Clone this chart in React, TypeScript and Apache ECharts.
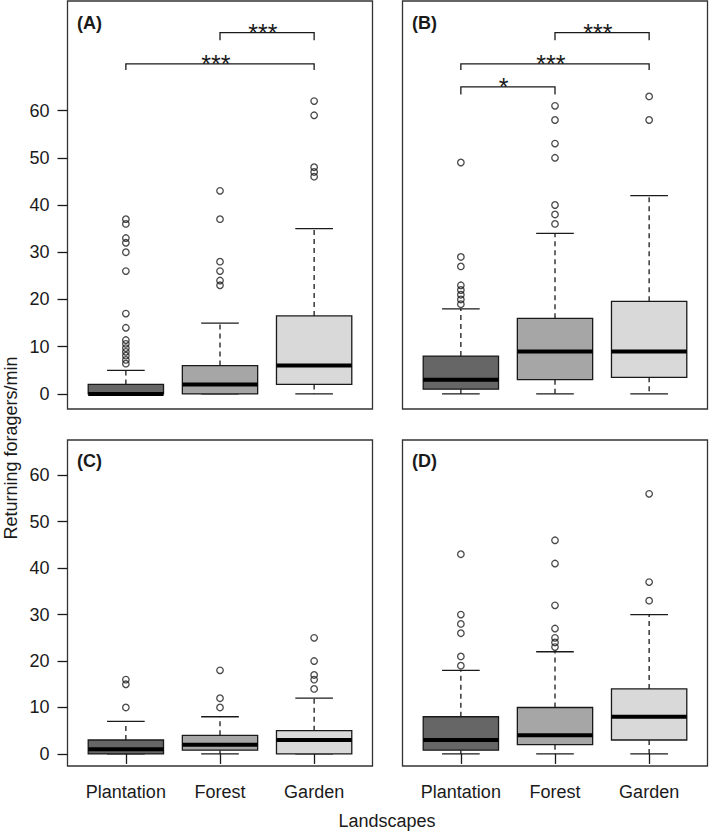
import React, { useEffect, useRef } from 'react';
import * as echarts from 'echarts';

const categories = ['Plantation', 'Forest', 'Garden'];
const panelLabels = ['(A)', '(B)', '(C)', '(D)'];
const boxColors = ['#666666', '#a6a6a6', '#d9d9d9'];
const yTicks = [0, 10, 20, 30, 40, 50, 60];
const xTicks = [1, 2, 3];

// [min, Q1, median, Q3, max] per landscape
const statsA = [[0, 0, 0, 2, 5], [0, 0, 2, 6, 15], [0, 2, 6, 16.5, 35]];
const statsB = [[0, 1, 3, 8, 18], [0, 3, 9, 16, 34], [0, 3.5, 9, 19.6, 42]];
const statsC = [[0, 0, 1, 3, 7], [0, 0.8, 2, 4, 8], [0, 0, 3, 5, 12]];
const statsD = [[0, 0.8, 3, 8, 18], [0, 2, 4, 10, 22], [0, 3, 8, 14, 30]];

const outliersA = [
  [6.4, 7.2, 8.1, 8.9, 9.7, 10.6, 11.4, 14, 17, 26, 30, 32, 33, 36, 37],
  [23, 24, 26, 28, 37, 43],
  [46, 47, 48, 59, 62],
];
const outliersB = [
  [19, 20, 21, 22, 23, 27, 29, 49],
  [36, 38, 40, 50, 53, 58, 61],
  [58, 63],
];
const outliersC = [
  [10, 15, 16],
  [10, 12, 18],
  [14, 16, 17, 20, 25],
];
const outliersD = [
  [19, 21, 26, 28, 30, 43],
  [23, 24, 25, 27, 32, 41, 46],
  [33, 37, 56],
];

// significance brackets: from, to, line level, end-drop level, label
const bracketsA = [
  { from: 2, to: 3, y: 76.5, drop: 74.9, label: '***' },
  { from: 1, to: 3, y: 69.9, drop: 68.6, label: '***' },
];
const bracketsB = [
  { from: 2, to: 3, y: 76.5, drop: 74.9, label: '***' },
  { from: 1, to: 3, y: 69.9, drop: 68.6, label: '***' },
  { from: 1, to: 2, y: 65.0, drop: 63.4, label: '*' },
];

const topRange = [-3.2, 83.2];
const bottomRange = [-2.6, 67.6];

const FONT = '"Liberation Sans", Arial, Helvetica, sans-serif';
const INK = '#1a1a1a';
const FRAME = '#333333';

export default function App() {
  const ref = useRef<HTMLDivElement>(null);

  useEffect(() => {
    if (!ref.current) return;
    const chart = echarts.init(ref.current, undefined, { renderer: 'svg' });

    const panels = [
      { stats: statsA, out: outliersA, br: bracketsA, range: topRange, yLab: true, xLab: false },
      { stats: statsB, out: outliersB, br: bracketsB, range: topRange, yLab: false, xLab: false },
      { stats: statsC, out: outliersC, br: [], range: bottomRange, yLab: true, xLab: true },
      { stats: statsD, out: outliersD, br: [], range: bottomRange, yLab: false, xLab: true },
    ];
    const gridPos = [
      { left: 67.5, top: 1, width: 305, height: 408 },
      { left: 402.5, top: 1, width: 305, height: 408 },
      { left: 67.5, top: 440, width: 305, height: 326 },
      { left: 402.5, top: 440, width: 305, height: 326 },
    ];

    const grid = gridPos.map((g) => ({
      ...g,
      show: true,
      borderColor: FRAME,
      borderWidth: 1.3,
      backgroundColor: 'transparent',
      containLabel: false,
    }));

    const xAxis = panels.map((p, i) => ({
      type: 'value',
      gridIndex: i,
      min: 0.38,
      max: 3.62,
      splitLine: { show: false },
      axisLine: { show: false },
      axisTick: {
        show: p.xLab,
        length: 10,
        inside: false,
        customValues: xTicks,
        lineStyle: { color: INK, width: 1.3 },
      },
      axisLabel: {
        show: p.xLab,
        customValues: xTicks,
        formatter: (v: number) => categories[Math.round(v) - 1] || '',
        fontSize: 18,
        fontFamily: FONT,
        color: INK,
        margin: 17,
      },
    }));

    const yAxis = panels.map((p, i) => ({
      type: 'value',
      gridIndex: i,
      min: p.range[0],
      max: p.range[1],
      splitLine: { show: false },
      axisLine: { show: false },
      axisTick: {
        show: p.yLab,
        length: 10,
        inside: false,
        customValues: yTicks,
        lineStyle: { color: INK, width: 1.3 },
      },
      axisLabel: {
        show: p.yLab,
        customValues: yTicks,
        fontSize: 18,
        fontFamily: FONT,
        color: INK,
        margin: 18,
      },
    }));

    const series: any[] = [];
    panels.forEach((p, i) => {
      const boxData = p.stats.map((s, k) => [k + 1, s[0], s[1], s[2], s[3], s[4], k]);
      series.push({
        type: 'custom',
        xAxisIndex: i,
        yAxisIndex: i,
        clip: false,
        data: boxData,
        renderItem: (params: any, api: any) => {
          const x = api.value(0);
          const mn = api.value(1);
          const q1 = api.value(2);
          const med = api.value(3);
          const q3 = api.value(4);
          const mx = api.value(5);
          const ci = api.value(6);
          const c = api.coord([x, med]);
          const cx = c[0];
          const half = (api.coord([x + 0.4, med])[0] - api.coord([x - 0.4, med])[0]) / 2;
          const capHalf = half / 2;
          const yMin = api.coord([x, mn])[1];
          const yQ1 = api.coord([x, q1])[1];
          const yMed = c[1];
          const yQ3 = api.coord([x, q3])[1];
          const yMax = api.coord([x, mx])[1];
          const lineStyle = { stroke: INK, lineWidth: 1.3, fill: 'none' };
          const dashStyle = { stroke: INK, lineWidth: 1.3, lineDash: [5, 4], fill: 'none' };
          return {
            type: 'group',
            children: [
              { type: 'line', shape: { x1: cx, y1: yQ3, x2: cx, y2: yMax }, style: dashStyle },
              { type: 'line', shape: { x1: cx, y1: yQ1, x2: cx, y2: yMin }, style: dashStyle },
              { type: 'line', shape: { x1: cx - capHalf, y1: yMax, x2: cx + capHalf, y2: yMax }, style: lineStyle },
              { type: 'line', shape: { x1: cx - capHalf, y1: yMin, x2: cx + capHalf, y2: yMin }, style: lineStyle },
              {
                type: 'rect',
                shape: { x: cx - half, y: yQ3, width: half * 2, height: yQ1 - yQ3 },
                style: { fill: boxColors[ci], stroke: INK, lineWidth: 1.3 },
              },
              {
                type: 'line',
                shape: { x1: cx - half, y1: yMed, x2: cx + half, y2: yMed },
                style: { stroke: '#000', lineWidth: 4 },
              },
            ],
          };
        },
      });

      const pts: number[][] = [];
      p.out.forEach((arr, k) => arr.forEach((v) => pts.push([k + 1, v])));
      series.push({
        type: 'scatter',
        xAxisIndex: i,
        yAxisIndex: i,
        data: pts,
        symbol: 'circle',
        symbolSize: 6.5,
        itemStyle: { color: 'transparent', borderColor: INK, borderWidth: 1.3 },
        emphasis: { disabled: true },
      });

      if (p.br.length) {
        const br = p.br;
        series.push({
          type: 'custom',
          xAxisIndex: i,
          yAxisIndex: i,
          clip: false,
          data: br.map((b) => [b.from, b.to, b.y, b.drop]),
          renderItem: (params: any, api: any) => {
            const f = api.value(0);
            const t = api.value(1);
            const y = api.value(2);
            const d = api.value(3);
            const p1 = api.coord([f, d]);
            const p2 = api.coord([f, y]);
            const p3 = api.coord([t, y]);
            const p4 = api.coord([t, d]);
            const mid = api.coord([(f + t) / 2 - 0.045, y]);
            return {
              type: 'group',
              children: [
                {
                  type: 'polyline',
                  shape: { points: [p1, p2, p3, p4] },
                  style: { stroke: INK, lineWidth: 1.3, fill: 'none' },
                },
                {
                  type: 'text',
                  x: mid[0],
                  y: mid[1] + 0.5,
                  style: {
                    text: br[params.dataIndex].label,
                    fontSize: 25,
                    fontFamily: FONT,
                    fill: INK,
                    align: 'center',
                    verticalAlign: 'middle',
                  },
                },
              ],
            };
          },
        });
      }
    });

    const panelLabelPos = [
      [77, 22.5],
      [412, 22.5],
      [77, 460.5],
      [412, 460.5],
    ];

    const graphic: any[] = panelLabels.map((t, i) => ({
      type: 'text',
      x: panelLabelPos[i][0],
      y: panelLabelPos[i][1],
      style: {
        text: t,
        fontSize: 18,
        fontWeight: 'bold',
        fontFamily: FONT,
        fill: INK,
        align: 'left',
        verticalAlign: 'middle',
      },
    }));
    graphic.push({
      type: 'text',
      x: 11,
      y: 448,
      rotation: Math.PI / 2,
      style: {
        text: 'Returning foragers/min',
        fontSize: 18,
        fontFamily: FONT,
        fill: INK,
        align: 'center',
        verticalAlign: 'middle',
      },
    });
    graphic.push({
      type: 'text',
      x: 387,
      y: 821,
      style: {
        text: 'Landscapes',
        fontSize: 18,
        fontFamily: FONT,
        fill: INK,
        align: 'center',
        verticalAlign: 'middle',
      },
    });

    chart.setOption({
      animation: false,
      backgroundColor: '#ffffff',
      grid,
      xAxis,
      yAxis,
      series,
      graphic,
    } as any);

    return () => chart.dispose();
  }, []);

  return (
    <div
      ref={ref}
      style={{ position: 'fixed', left: 0, top: 0, width: 709, height: 834, background: '#fff' }}
    />
  );
}
